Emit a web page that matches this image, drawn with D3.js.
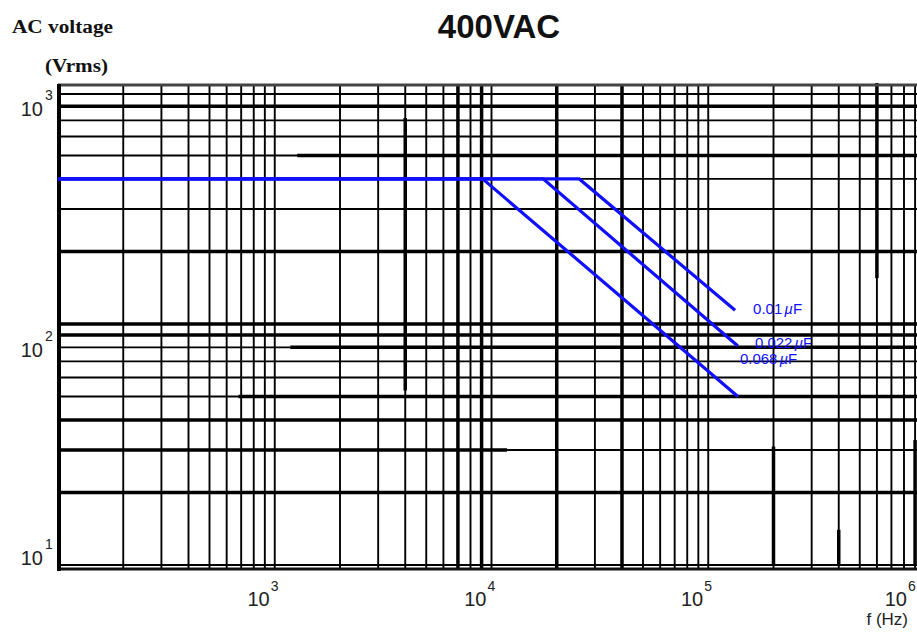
<!DOCTYPE html>
<html lang="en">
<head>
    <meta charset="UTF-8">
    <title>400VAC</title>
    <script src="https://cdn.jsdelivr.net/npm/d3@7"></script>
    <style>
        body{ margin:0; background:#fff; }
        .tick{ font-family: "Liberation Sans", Arial, sans-serif; fill:#222; }
        .capLabel{ font-family: "Liberation Sans", Arial, sans-serif; font-size:15px; fill:#1010ff; }
        .axisTitle{ font-family: "Liberation Serif", "Times New Roman", serif; font-weight:bold; font-size:18px; fill:#111; }
    </style>
</head>
<body>
<svg width="917" height="632"></svg>
<script>
    // values
    const title = "400VAC";
    const freqTicks = [1e3, 1e4, 1e5, 1e6];
    const voltTicks = [10, 100, 1000];
    const capLabels = ["0.01\u00b5F", "0.022\u00b5F", "0.068\u00b5F"];
    const ratedVolt = 400;
    const startFreq = 100;
    const kneeFreq = [25400, 17300, 9100];
    const endFreq = [133000, 137000, 137000];
    const endVolt = [114, 81, 50];

    // grid lines that are printed heavier in the original
    const heavyVolt = [800, 200, 100, 90, 40, 20];
    const heavyFreq = [7000, 9000, 20000, 40000];
    // [value, from, to]
    const heavyVoltSegs = [[500, 1270, 1e6], [80, 1180, 1e6], [50, 680, 1e6], [30, 100, 11800]];
    const heavyFreqSegs = [[4000, 716, 53], [200000, 31, 10], [400000, 14, 10], [600000, 155, 1000], [900000, 33, 10]];

    const W = 917;
    const plotLeft = 58, plotTop = 85, plotBottom = 569;

    const x = d3.scaleLog().domain([100, 1e6]).range([58, 925]);
    const y = d3.scaleLog().domain([10, 1000]).range([565, 83]);

    const svg = d3.select("svg");

    // grid
    const grid = svg.append("g").attr("stroke", "#000");
    grid.selectAll("line.v")
        .data(x.ticks().filter(d => x(d) > plotLeft + 3 && x(d) < W))
        .join("line")
        .attr("class", "v")
        .attr("x1", d => x(d)).attr("x2", d => x(d))
        .attr("y1", plotTop).attr("y2", plotBottom)
        .attr("stroke-width", d => heavyFreq.includes(d) ? 3.5 : 1.9);
    grid.selectAll("line.h")
        .data(y.ticks().filter(d => y(d) > plotTop + 3 && y(d) < plotBottom - 3))
        .join("line")
        .attr("class", "h")
        .attr("x1", plotLeft).attr("x2", W)
        .attr("y1", d => y(d)).attr("y2", d => y(d))
        .attr("stroke-width", d => heavyVolt.includes(d) ? 3.5 : 1.9);

    // heavier pieces of lines
    svg.append("g").selectAll("line")
        .data(heavyVoltSegs)
        .join("line")
        .attr("x1", d => Math.max(plotLeft, x(d[1]))).attr("x2", d => Math.min(W, x(d[2])))
        .attr("y1", d => y(d[0])).attr("y2", d => y(d[0]))
        .attr("stroke", "#000").attr("stroke-width", 3.5);
    svg.append("g").selectAll("line")
        .data(heavyFreqSegs)
        .join("line")
        .attr("x1", d => x(d[0])).attr("x2", d => x(d[0]))
        .attr("y1", d => Math.max(plotTop, y(d[1]))).attr("y2", d => Math.min(plotBottom, y(d[2])))
        .attr("stroke", "#000").attr("stroke-width", 3.5);

    // frame
    svg.append("line").attr("x1", plotLeft).attr("x2", W).attr("y1", plotTop).attr("y2", plotTop)
        .attr("stroke", "#444").attr("stroke-width", 3);
    svg.append("line").attr("x1", plotLeft - 1).attr("x2", W).attr("y1", plotBottom).attr("y2", plotBottom)
        .attr("stroke", "#111").attr("stroke-width", 3);
    svg.append("line").attr("x1", plotLeft + 1).attr("x2", plotLeft + 1).attr("y1", plotTop - 1).attr("y2", plotBottom + 2)
        .attr("stroke", "#000").attr("stroke-width", 4);

    // curves
    const line = d3.line().x(d => x(d[0])).y(d => y(d[1]));
    const curves = capLabels.map((c, i) => [
        [startFreq, ratedVolt], [kneeFreq[i], ratedVolt], [endFreq[i], endVolt[i]]
    ]);
    svg.append("g").selectAll("path")
        .data(curves)
        .join("path")
        .attr("d", line)
        .attr("fill", "none")
        .attr("stroke", "#1010ff")
        .attr("stroke-width", 3.2);

    // labels next to the curve ends, the lower two sit close together like the original
    const labelOffset = [[18, 4], [17, 2], [2, -33]];
    svg.append("g").selectAll("text")
        .data(capLabels)
        .join("text")
        .attr("class", "capLabel")
        .attr("x", (d, i) => x(endFreq[i]) + labelOffset[i][0])
        .attr("y", (d, i) => y(endVolt[i]) + labelOffset[i][1])
        .each(function(d){
            const t = d3.select(this);
            t.append("tspan").text(d.replace("\u00b5F", ""));
            t.append("tspan").text("\u00b5").attr("font-style", "italic").attr("dx", 2);
            t.append("tspan").text("F");
        });

    // y tick labels
    const yl = svg.append("g").attr("class", "tick");
    voltTicks.forEach(v => {
        const by = Math.min(y(v) + 33, 565);
        yl.append("text").attr("x", 43).attr("y", by).attr("text-anchor", "end")
            .attr("font-size", 20).text("10");
        yl.append("text").attr("x", 45).attr("y", by - 16)
            .attr("font-size", 14).text(Math.round(Math.log10(v)));
    });

    // x tick labels
    const xl = svg.append("g").attr("class", "tick");
    freqTicks.forEach(f => {
        const ex = Math.min(x(f) - 5, 907);
        xl.append("text").attr("x", ex).attr("y", 606).attr("text-anchor", "end")
            .attr("font-size", 20).text("10");
        xl.append("text").attr("x", ex + 1).attr("y", 591)
            .attr("font-size", 14).text(Math.round(Math.log10(f)));
    });
    xl.append("text").attr("x", 908).attr("y", 625).attr("text-anchor", "end")
        .attr("font-size", 17).text("f (Hz)");

    // titles
    svg.append("text").attr("x", 499).attr("y", 38).attr("text-anchor", "middle")
        .attr("font-family", "'Liberation Sans', Arial, sans-serif")
        .attr("font-weight", "bold").attr("font-size", 33).attr("fill", "#111")
        .text(title);
    svg.append("text").attr("class", "axisTitle").attr("x", 12).attr("y", 33)
        .attr("textLength", 101).attr("lengthAdjust", "spacingAndGlyphs").text("AC voltage");
    svg.append("text").attr("class", "axisTitle").attr("x", 45).attr("y", 72)
        .attr("textLength", 63).attr("lengthAdjust", "spacingAndGlyphs").text("(Vrms)");
</script>
</body>
</html>
